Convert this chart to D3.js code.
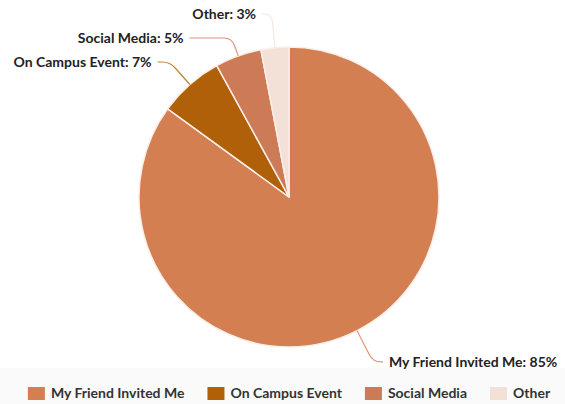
<!DOCTYPE html>
<html lang="en">
<head>
<meta charset="UTF-8" />
<title>Pie Chart</title>
<style>
  body { margin: 0; background: #fff; }
  svg { display: block; font-family: Lato, "Open Sans", sans-serif; }
  .label { font-size: 14px; font-weight: bold; fill: #222; }
  .legend text { font-size: 14px; font-weight: bold; fill: #333; }
</style>
</head>
<body>
<div id="chart"></div>
<script src="https://cdn.jsdelivr.net/npm/d3@7"></script>
<script>
// data
var categories = ["My Friend Invited Me", "On Campus Event", "Social Media", "Other"];
var values = [85, 7, 5, 3];
var colors = ["#d37f52", "#b06009", "#cd7a56", "#f3e1d8"];

var w = 565, h = 404;
var cx = 289, cy = 197, r = 150;

var svg = d3.select("#chart").append("svg")
  .attr("width", w)
  .attr("height", h);

// legend band at the bottom
svg.append("rect")
  .attr("x", 0).attr("y", 368)
  .attr("width", w).attr("height", h - 368)
  .attr("fill", "#fafafa");

var data = categories.map(function(c, i) {
  return { name: c, value: values[i], color: colors[i] };
});

var pie = d3.pie().sort(null).value(function(d) { return d.value; });
var arcs = pie(data);
var arc = d3.arc().innerRadius(0).outerRadius(r);

var g = svg.append("g").attr("transform", "translate(" + cx + "," + cy + ")");

g.selectAll("path.slice")
  .data(arcs)
  .enter().append("path")
  .attr("class", "slice")
  .attr("d", arc)
  .attr("fill", function(d) { return d.data.color; })
  .attr("stroke", "#fbeee8")
  .attr("stroke-width", 1.5);

// label layout: start on a circle outside the pie, then push apart
var dist = 35, spacing = 24, topMin = 14;
arcs.forEach(function(d) {
  d.mid = (d.startAngle + d.endAngle) / 2;
  d.left = Math.sin(d.mid) < 0;
  d.ly = cy - (r + dist) * Math.cos(d.mid);
});
var leftLabels = arcs.filter(function(d) { return d.left; })
  .sort(function(a, b) { return a.ly - b.ly; });
var prev = -Infinity;
leftLabels.forEach(function(d) {
  d.ly = Math.max(d.ly, prev + spacing, topMin);
  prev = d.ly;
});

arcs.forEach(function(d) {
  var sa = Math.sin(d.mid), ca = -Math.cos(d.mid);
  var t = (d.ly - cy) / ca;
  d.ex = cx + t * sa; // elbow where the radial line meets the label row
  var p0x = cx + r * sa, p0y = cy + r * ca;
  var k = 8;
  var bx = cx + (t - k) * sa, by = cy + (t - k) * ca;
  var sx, hx;
  if (d.left) {
    var R = r + 30, dy = d.ly + 4 - cy;
    var circX = cx - Math.sqrt(Math.max(0, R * R - dy * dy));
    d.lx = Math.min(d.ex - 12, circX - 14);
    sx = d.lx + 6; hx = d.ex - k;
  } else {
    d.lx = d.ex + 16;
    sx = d.lx - 6; hx = d.ex + k;
  }
  d.conn = "M" + sx + "," + d.ly + "L" + hx + "," + d.ly +
    "Q" + d.ex + "," + d.ly + " " + bx + "," + by +
    "L" + p0x + "," + p0y;
});

svg.selectAll("path.conn")
  .data(arcs)
  .enter().append("path")
  .attr("class", "conn")
  .attr("d", function(d) { return d.conn; })
  .attr("fill", "none")
  .attr("stroke", function(d) { return d.data.color; })
  .attr("stroke-opacity", 0.8)
  .attr("stroke-width", 1.2);

svg.selectAll("text.label")
  .data(arcs)
  .enter().append("text")
  .attr("class", "label")
  .attr("x", function(d) { return d.lx; })
  .attr("y", function(d) { return d.ly; })
  .attr("dy", "0.35em")
  .attr("text-anchor", function(d) { return d.left ? "end" : "start"; })
  .text(function(d) { return d.data.name + ": " + d.data.value + "%"; });

// legend, centred under the pie
var legend = svg.append("g").attr("class", "legend");
var items = legend.selectAll("g")
  .data(data)
  .enter().append("g");
items.append("rect")
  .attr("width", 17).attr("height", 13)
  .attr("y", -11)
  .attr("fill", function(d) { return d.color; });
items.append("text")
  .attr("x", 23)
  .attr("y", 0)
  .text(function(d) { return d.name; });

var xPos = 0, gap = 23;
items.each(function() {
  var it = d3.select(this);
  var tw = it.select("text").node().getComputedTextLength();
  it.attr("transform", "translate(" + xPos + ",0)");
  xPos += 23 + tw + gap;
});
var total = xPos - gap;
legend.attr("transform", "translate(" + (cx - total / 2) + ",398)");
</script>
</body>
</html>
